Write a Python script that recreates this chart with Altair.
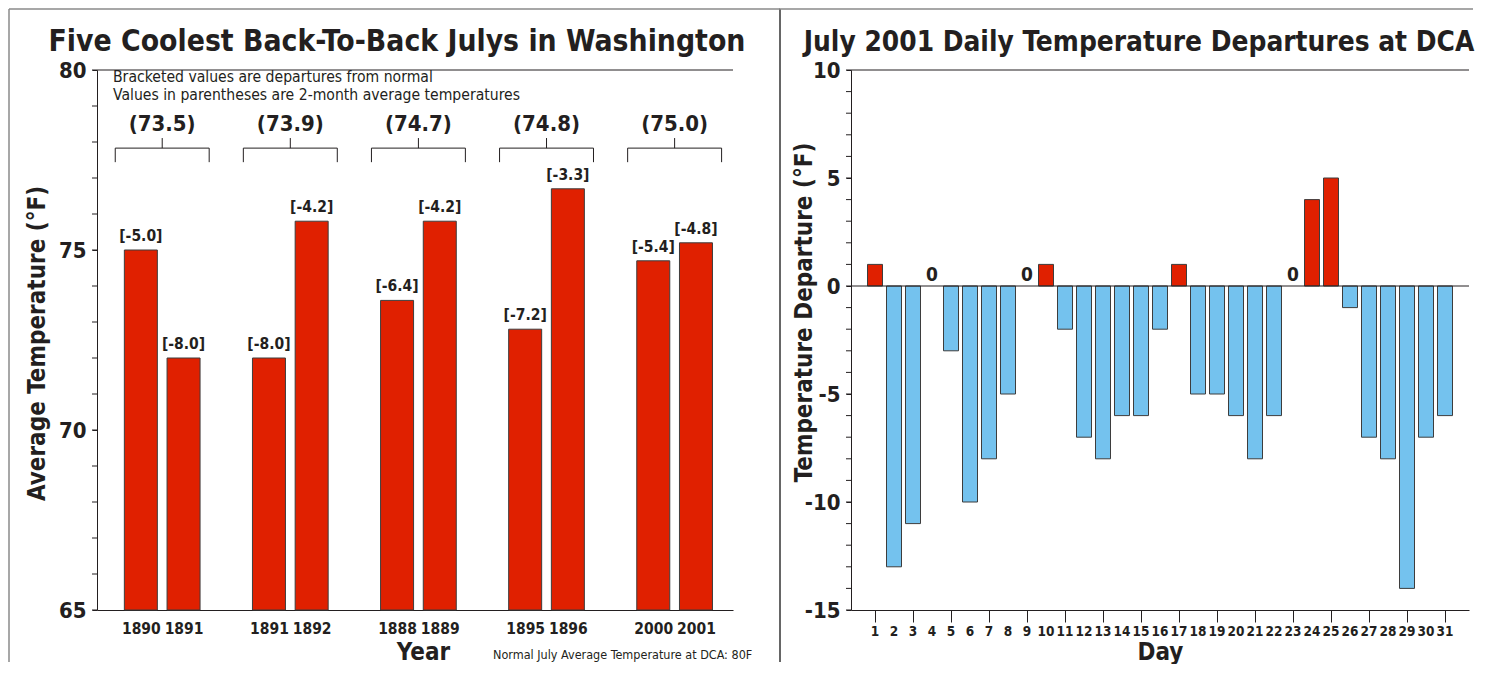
import altair as alt
import pandas as pd

FONT = "DejaVu Sans Condensed, Liberation Sans Narrow, sans-serif"
RED = "#E02000"
BLUE = "#74C2EE"
INK = "#231F20"
EDGE = "#3d3d3d"
FRAME = "#8a8a8a"

# ---------------- data: left panel ----------------
left_title = "Five Coolest Back-To-Back Julys in Washington"
years = ["1890", "1891", "1891", "1892", "1888", "1889", "1895", "1896", "2000", "2001"]
avg_temps = [75.0, 72.0, 72.0, 75.8, 73.6, 75.8, 72.8, 76.7, 74.7, 75.2]
departures = ["[-5.0]", "[-8.0]", "[-8.0]", "[-4.2]", "[-6.4]", "[-4.2]", "[-7.2]", "[-3.3]", "[-5.4]", "[-4.8]"]
pair_avgs = ["(73.5)", "(73.9)", "(74.7)", "(74.8)", "(75.0)"]
notes = ["Bracketed values are departures from normal",
         "Values in parentheses are 2-month average temperatures"]
normal_note = "Normal July Average Temperature at DCA: 80F"
left_y_labels = [65, 70, 75, 80]
left_y_minor = list(range(65, 81))

# ---------------- data: right panel ----------------
right_title = "July 2001 Daily Temperature Departures at DCA"
days = list(range(1, 32))
day_departures = [1, -13, -11, 0, -3, -10, -8, -5, 0, 1, -2, -7, -8, -6, -6, -2,
                  1, -5, -5, -6, -8, -6, 0, 4, 5, -1, -7, -8, -14, -7, -6]
right_y_labels = [-15, -10, -5, 0, 5, 10]
right_y_minor = list(range(-15, 11))

# slot index: two bars per pair, one empty slot between pairs
slots = [3 * (i // 2) + i % 2 for i in range(len(years))]
left_df = pd.DataFrame({"slot": slots, "year": years, "temp": avg_temps, "dep": departures})
group_df = pd.DataFrame({"group": list(range(len(pair_avgs))), "avg": pair_avgs})
one_df = pd.DataFrame({"k": [0]})

slot_labels = [""] * (max(slots) + 1)
for s, y in zip(slots, years):
    slot_labels[s] = y
label_expr = "[" + ",".join(f"'{v}'" for v in slot_labels) + "][datum.value]"

XT = "Year"
YT = "Average Temperature (°F)"
xs = alt.Scale(domain=[-0.91, 13.75], nice=False, zero=False)
ys = alt.Scale(domain=[65, 80], nice=False, zero=False)

left_bars = alt.Chart(left_df).mark_bar(size=33, color=RED, stroke=EDGE, strokeWidth=1).encode(
    x=alt.X("slot:Q", scale=xs,
            axis=alt.Axis(values=slots, labelExpr=label_expr, ticks=False, tickSize=0,
                          labelFontSize=15.5, labelPadding=11, labelOverlap=False, title=XT,
                          titleFontSize=24, titleX=326, titleY=49, titleBaseline="alphabetic")),
    y=alt.Y("temp:Q", scale=ys,
            axis=alt.Axis(values=left_y_labels, labelExpr="'' + datum.value",
                          tickSize=5, labelFontSize=22, labelPadding=6, labelOverlap=False,
                          title=YT, titleFontSize=24,
                          titleX=-60, titleY=273, titleBaseline="middle")),
    y2=alt.datum(65),
)

left_minor = alt.Chart(pd.DataFrame({"v": left_y_minor})).mark_rule(color=INK, strokeWidth=1).encode(
    y=alt.Y("v:Q", scale=ys, axis=alt.Axis(title=YT)), x=alt.value(-5), x2=alt.value(0))

left_labels = alt.Chart(left_df).mark_text(
    font=FONT, fontSize=15.5, fontWeight="bold", color=INK, baseline="middle", dy=-14
).encode(x=alt.X("slot:Q", scale=xs, axis=alt.Axis(title=XT)),
         y=alt.Y("temp:Q", scale=ys, axis=alt.Axis(title=YT)), text="dep:N")

brk = alt.Chart(group_df).transform_calculate(
    c="3 * datum.group + 0.5", l="datum.c - 1.1", r="datum.c + 1.1"
)
bx = dict(scale=xs, axis=alt.Axis(title=XT))
bracket_h = brk.mark_rule(color=INK, strokeWidth=1).encode(
    x=alt.X("l:Q", **bx), x2="r:Q", y=alt.datum(77.83))
bracket_l = brk.mark_rule(color=INK, strokeWidth=1).encode(
    x=alt.X("l:Q", **bx), y=alt.datum(77.83), y2=alt.datum(77.44))
bracket_r = brk.mark_rule(color=INK, strokeWidth=1).encode(
    x=alt.X("r:Q", **bx), y=alt.datum(77.83), y2=alt.datum(77.44))
bracket_s = brk.mark_rule(color=INK, strokeWidth=1).encode(
    x=alt.X("c:Q", **bx), y=alt.datum(77.83), y2=alt.datum(78.11))
bracket_t = brk.mark_text(font=FONT, fontSize=22, fontWeight="bold", color=INK, baseline="middle").encode(
    x=alt.X("c:Q", **bx), y=alt.datum(78.5), text="avg:N")

top_rule_l = alt.Chart(one_df).mark_rule(color=INK, strokeWidth=1).encode(y=alt.datum(80))

notes_text = alt.Chart(one_df).mark_text(
    font=FONT, fontSize=15.6, color=INK, align="left", baseline="middle", lineBreak="\n", lineHeight=18
).encode(x=alt.value(16), y=alt.value(7), text=alt.value("\n".join(notes)))

normal_text = alt.Chart(one_df).mark_text(
    font=FONT, fontSize=12.5, color=INK, align="left", baseline="alphabetic"
).encode(x=alt.value(396), y=alt.value(589), text=alt.value(normal_note))

title_l = alt.Chart(one_df).mark_text(
    font=FONT, fontSize=29.8, fontWeight="bold", color=INK, align="center", baseline="alphabetic"
).encode(x=alt.value(300), y=alt.value(-19), text=alt.value(left_title))

frame_left = alt.Chart(one_df).mark_rule(color=FRAME, strokeWidth=1.5).encode(
    x=alt.value(-88), y=alt.value(-61), y2=alt.value(592))
frame_top_l = alt.Chart(one_df).mark_rule(color=FRAME, strokeWidth=1.5).encode(
    x=alt.value(-88), x2=alt.value(683), y=alt.value(-61))
divider = alt.Chart(one_df).mark_rule(color="#333333", strokeWidth=1.5).encode(
    x=alt.value(683), y=alt.value(-61), y2=alt.value(592))

left = alt.layer(
    left_bars, left_minor, left_labels, top_rule_l,
    bracket_h, bracket_l, bracket_r, bracket_s, bracket_t, notes_text, normal_text,
    title_l, frame_left, frame_top_l, divider,
).properties(width=636, height=540)

# ---------------- right panel ----------------
right_df = pd.DataFrame({"day": days, "dep": day_departures})
DXT = "Day"
DYT = "Temperature Departure (°F)"
dx_scale = alt.Scale(domain=[0, 32], nice=False, zero=False)
dy_scale = alt.Scale(domain=[-15, 10], nice=False, zero=False)

right_bars = alt.Chart(right_df).transform_filter("datum.dep != 0").mark_bar(
    size=15, stroke=EDGE, strokeWidth=1
).encode(
    x=alt.X("day:Q", scale=dx_scale,
            axis=alt.Axis(values=days, tickSize=12, labels=False,
                          title=DXT, titleFontSize=24,
                          titleY=49, titleBaseline="alphabetic")),
    y=alt.Y("dep:Q", scale=dy_scale,
            axis=alt.Axis(values=right_y_labels, labelExpr="'' + datum.value",
                          tickSize=5, labelFontSize=22, labelPadding=6, labelOverlap=False,
                          title=DYT, titleFontSize=24,
                          titleX=-47, titleY=242, titleBaseline="middle")),
    y2=alt.datum(0),
    color=alt.condition("datum.dep > 0", alt.value(RED), alt.value(BLUE)),
)

# day numbers under the ticks (every day labelled, as in the original)
day_labels = alt.Chart(right_df).mark_text(
    font=FONT, fontSize=13.5, fontWeight="bold", color=INK, baseline="middle"
).encode(x=alt.X("day:Q", scale=dx_scale, axis=alt.Axis(title=DXT)),
         y=alt.value(562), text="day:Q")

right_minor = alt.Chart(pd.DataFrame({"v": right_y_minor})).mark_rule(color=INK, strokeWidth=1).encode(
    y=alt.Y("v:Q", scale=dy_scale, axis=alt.Axis(title=DYT)), x=alt.value(-5), x2=alt.value(0))

zero_labels = alt.Chart(right_df).transform_filter("datum.dep == 0").mark_text(
    font=FONT, fontSize=19, fontWeight="bold", color=INK, baseline="middle", dy=-11
).encode(x=alt.X("day:Q", scale=dx_scale, axis=alt.Axis(title=DXT)),
         y=alt.Y("dep:Q", scale=dy_scale, axis=alt.Axis(title=DYT)), text="dep:Q")

zero_rule = alt.Chart(one_df).mark_rule(color=INK, strokeWidth=1).encode(y=alt.datum(0))
top_rule_r = alt.Chart(one_df).mark_rule(color=INK, strokeWidth=1).encode(y=alt.datum(10))
frame_top_r = alt.Chart(one_df).mark_rule(color=FRAME, strokeWidth=1.5).encode(
    x=alt.value(-72), x2=alt.value(622), y=alt.value(-61))
title_r = alt.Chart(one_df).mark_text(
    font=FONT, fontSize=27.8, fontWeight="bold", color=INK, align="center", baseline="alphabetic"
).encode(x=alt.value(288), y=alt.value(-19), text=alt.value(right_title))

right = alt.layer(right_bars, right_minor, zero_rule, top_rule_r, zero_labels, day_labels,
                  title_r, frame_top_r).properties(width=618, height=540)

chart = alt.hconcat(left, right, spacing=118, bounds="flush").properties(
    padding=0
).configure_view(stroke=None).configure_axis(
    grid=False, domainColor=INK, tickColor=INK, labelColor=INK, titleColor=INK,
    labelFont=FONT, titleFont=FONT, labelFontWeight="bold", titleFontWeight="bold",
    domainWidth=1, tickWidth=1, labelOverlap=False,
)

chart.save("out.html", embed_options={"renderer": "svg", "actions": False})
